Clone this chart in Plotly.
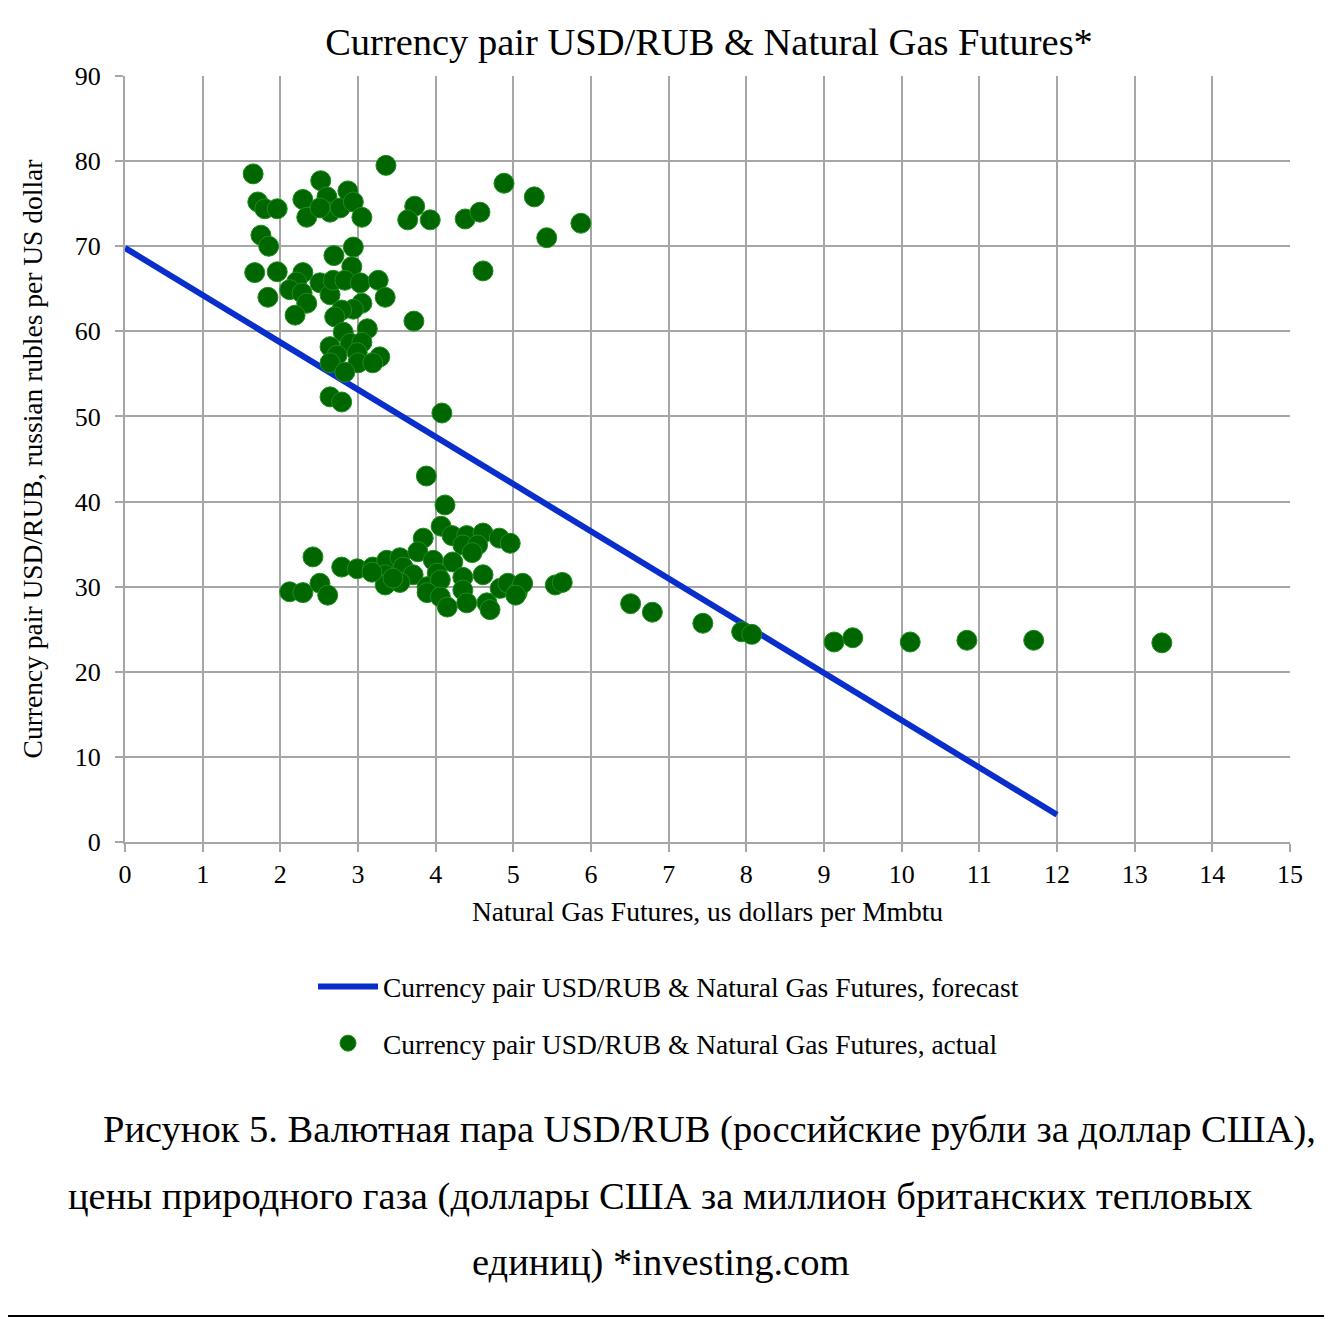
import plotly.graph_objects as go

# ---- data ----
gas_price = [
    1.65, 1.71, 1.80, 1.96, 1.75, 1.85, 1.67, 1.96, 1.84, 2.52,
    2.29, 2.34, 2.60, 2.64, 2.51, 2.77, 2.87, 2.94, 3.05, 3.36,
    2.94, 2.69, 2.92, 2.29, 2.21, 2.12, 2.28, 2.34, 2.19, 2.51,
    2.64, 2.68, 2.83, 3.03, 3.26, 3.35, 3.05, 2.94, 2.79, 2.70,
    3.72, 3.12, 2.81, 2.64, 2.90, 3.05, 2.73, 2.99, 3.28, 2.64,
    3.00, 3.19, 2.83, 2.64, 2.79, 3.73, 3.64, 3.93, 4.38, 4.57,
    4.88, 5.27, 5.43, 5.87, 4.61, 4.08,
    3.88, 4.12, 4.07, 3.84, 4.21, 4.40, 4.61, 4.82, 4.96, 4.35,
    4.54, 4.47, 2.42, 2.79, 2.99, 3.19, 3.37, 3.54, 3.58, 3.77,
    3.97, 4.22, 3.35, 3.71, 4.02, 4.35, 4.61, 3.35, 3.54, 3.89,
    4.06, 2.12, 2.29, 2.51, 2.61, 3.89, 4.06, 4.15, 4.35, 4.40,
    4.66, 4.70, 4.83, 4.93, 5.05, 5.12, 5.54, 5.63, 3.18, 3.45,
    5.03,
    6.51, 6.79, 7.44, 7.94, 8.07, 9.13, 9.37, 10.11, 10.84, 11.70,
    13.35,
]
usd_rub = [
    78.5, 75.2, 74.4, 74.4, 71.3, 70.0, 66.9, 67.0, 64.0, 77.7,
    75.5, 73.4, 75.8, 74.0, 74.5, 74.5, 76.5, 75.2, 73.4, 79.5,
    69.9, 68.9, 67.6, 66.9, 65.8, 64.9, 64.5, 63.3, 61.9, 65.7,
    64.3, 66.0, 66.0, 65.7, 66.0, 64.0, 63.3, 62.6, 62.5, 61.7,
    61.2, 60.3, 59.9, 58.2, 58.6, 58.7, 57.2, 57.5, 57.0, 56.3,
    56.3, 56.3, 55.2, 52.3, 51.7, 74.7, 73.1, 73.1, 73.2, 74.0,
    77.4, 75.8, 71.0, 72.7, 67.1, 50.4,
    43.0, 39.6, 37.1, 35.7, 36.0, 36.0, 36.3, 35.7, 35.1, 34.9,
    34.9, 34.0, 33.5, 32.3, 32.1, 32.3, 33.1, 33.4, 32.3, 34.1,
    33.1, 32.9, 31.4, 31.4, 31.6, 31.1, 31.4, 30.2, 30.5, 30.0,
    30.8, 29.4, 29.3, 30.4, 29.0, 29.3, 28.8, 27.6, 29.6, 28.1,
    28.1, 27.3, 29.8, 30.4, 29.3, 30.4, 30.2, 30.5, 31.7, 31.0,
    29.0,
    28.0, 27.0, 25.7, 24.7, 24.4, 23.5, 24.0, 23.5, 23.7, 23.7,
    23.4,
]
forecast_x = [0, 12]
forecast_y = [69.8, 3.2]

x_ticks = list(range(0, 16))
y_ticks = list(range(0, 91, 10))

title_text = "Currency pair USD/RUB & Natural Gas Futures*"
x_title = "Natural Gas Futures, us dollars per Mmbtu"
y_title = "Currency pair USD/RUB, russian rubles per US dollar"
name_forecast = "Currency pair USD/RUB & Natural Gas Futures, forecast"
name_actual = "Currency pair USD/RUB & Natural Gas Futures, actual"
caption_lines = [
    "Рисунок 5. Валютная пара USD/RUB (российские рубли за доллар США),",
    "цены природного газа (доллары США за миллион британских тепловых",
    "единиц) *investing.com",
]

FONT = "Liberation Serif, Times New Roman, serif"
GRID = "#a6a6a6"

fig = go.Figure()
fig.add_trace(go.Scatter(
    x=forecast_x, y=forecast_y, mode="lines", name=name_forecast,
    line=dict(color="#0a2ecc", width=6), legendgroup="f",
))
fig.add_trace(go.Scatter(
    x=gas_price, y=usd_rub, mode="markers", name=name_actual,
    marker=dict(color="#006600", size=20, line=dict(color="#1e8c1e", width=1)),
    legendgroup="a",
))

# the page body adds an 8px offset; lay the figure out in screen pixels
OFF = 8
W, H = 1332 - OFF, 1319 - OFF
L, T = 125 - OFF, 76 - OFF
pw, ph = 1165, 766
R, B = W - L - pw, H - T - ph


def px_x(p):
    return (p - OFF - L) / pw


def px_y(p):
    return (H - B - (p - OFF)) / ph


fig.update_layout(
    width=W, height=H,
    margin=dict(l=L, r=R, t=T, b=B, autoexpand=False),
    paper_bgcolor="white", plot_bgcolor="white",
    font=dict(family=FONT, color="black", size=27),
    title=dict(text=title_text, x=px_x(709), xref="paper", xanchor="center",
               y=1 - (42 - OFF) / H, yref="container", yanchor="middle",
               font=dict(size=38.5, family=FONT)),
    showlegend=True,
    legend=dict(x=px_x(313), xanchor="left", y=px_y(962), yanchor="top",
                font=dict(size=27.5, family=FONT), traceorder="grouped",
                tracegroupgap=18, itemwidth=60, bgcolor="rgba(0,0,0,0)"),
    xaxis=dict(range=[0, 15], tickvals=x_ticks, showgrid=True, gridcolor=GRID,
               gridwidth=2, zeroline=False, showline=True, linecolor=GRID,
               linewidth=2, ticks="outside", ticklen=8, tickwidth=2,
               tickcolor=GRID, tickfont=dict(size=26, family=FONT),
               title=dict(text=x_title, font=dict(size=27.5, family=FONT), standoff=14)),
    yaxis=dict(range=[0, 90], tickvals=y_ticks, showgrid=True, gridcolor=GRID,
               gridwidth=2, zeroline=False, showline=True, linecolor=GRID,
               linewidth=2, ticks="outside", ticklen=8, tickwidth=2,
               tickcolor=GRID, tickfont=dict(size=26, family=FONT),
               ticklabelstandoff=9,
               title=dict(text=y_title, font=dict(size=27.5, family=FONT), standoff=24)),
)

caption_pos = [(101, 1129, "left"), (66, 1196, "left"), (660, 1262, "center")]
for text, (cx, cy, anchor) in zip(caption_lines, caption_pos):
    fig.add_annotation(text=text, x=px_x(cx), y=px_y(cy), xref="paper", yref="paper",
                       xanchor=anchor, yanchor="middle", showarrow=False,
                       font=dict(size=38.5, family=FONT, color="black"))

fig.add_shape(type="line", xref="paper", yref="paper",
              x0=px_x(0), x1=px_x(1332), y0=px_y(1316), y1=px_y(1316),
              line=dict(color="black", width=2))

fig.write_html("out.html")
